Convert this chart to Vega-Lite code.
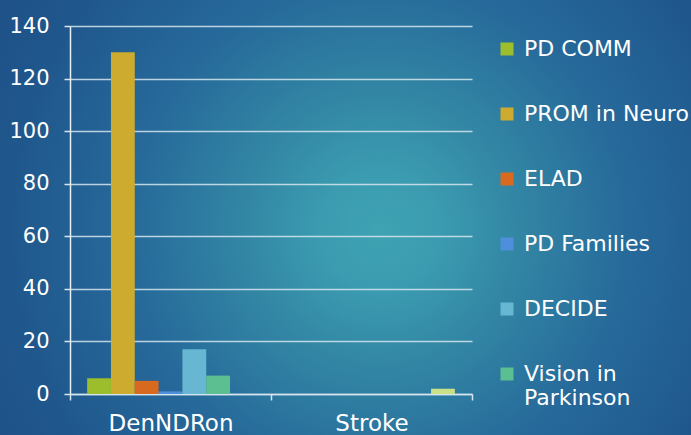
{
  "$schema": "https://vega.github.io/schema/vega-lite/v6.json",
  "width": 691,
  "height": 435,
  "autosize": {"type": "none"},
  "padding": 0,
  "background": "#1e5088",
  "view": {
    "stroke": null,
    "fill": {
      "gradient": "radial",
      "x1": 0.55, "y1": 0.518, "x2": 0.55, "y2": 0.518,
      "r1": 0, "r2": 0.7,
      "stops": [
        {"offset": 0, "color": "#3fa3b3"},
        {"offset": 0.124, "color": "#3b9bb0"},
        {"offset": 0.27, "color": "#3388a5"},
        {"offset": 0.52, "color": "#26699a"},
        {"offset": 0.785, "color": "#1f568b"},
        {"offset": 1, "color": "#1d4e86"}
      ]
    }
  },
  "data": {
    "values": [
      {"group": "DenNDRon", "series": "PD COMM", "value": 6},
      {"group": "DenNDRon", "series": "PROM in Neuro", "value": 130},
      {"group": "DenNDRon", "series": "ELAD", "value": 5},
      {"group": "DenNDRon", "series": "PD Families", "value": 1},
      {"group": "DenNDRon", "series": "DECIDE", "value": 17},
      {"group": "DenNDRon", "series": "Vision in Parkinson", "value": 7},
      {"group": "DenNDRon", "series": "Other", "value": 0},
      {"group": "Stroke", "series": "PD COMM", "value": 0},
      {"group": "Stroke", "series": "PROM in Neuro", "value": 0},
      {"group": "Stroke", "series": "ELAD", "value": 0},
      {"group": "Stroke", "series": "PD Families", "value": 0},
      {"group": "Stroke", "series": "DECIDE", "value": 0},
      {"group": "Stroke", "series": "Vision in Parkinson", "value": 0},
      {"group": "Stroke", "series": "Other", "value": 2}
    ]
  },
  "mark": {"type": "bar"},
  "encoding": {
    "x": {
      "field": "group",
      "type": "nominal",
      "sort": ["DenNDRon", "Stroke"],
      "scale": {"range": [70, 472], "paddingInner": 0, "paddingOuter": 0},
      "axis": {
        "title": null,
        "orient": "bottom",
        "offset": -41,
        "labelAngle": 0,
        "tickBand": "extent",
        "domain": true,
        "domainColor": "#d6e6ee",
        "domainWidth": 1.5,
        "ticks": true,
        "tickSize": 6,
        "tickColor": "#d6e6ee",
        "tickWidth": 1.5,
        "grid": false,
        "labelFont": "DejaVu Sans",
        "labelFontSize": 23,
        "labelColor": "#ffffff",
        "labelPadding": 12
      }
    },
    "xOffset": {
      "field": "series",
      "type": "nominal",
      "sort": ["PD COMM", "PROM in Neuro", "ELAD", "PD Families", "DECIDE", "Vision in Parkinson", "Other"],
      "scale": {"paddingInner": 0, "paddingOuter": 0.72}
    },
    "y": {
      "field": "value",
      "type": "quantitative",
      "scale": {"domain": [0, 140], "range": [394, 26], "nice": false, "zero": true},
      "axis": {
        "title": null,
        "values": [0, 20, 40, 60, 80, 100, 120, 140],
        "offset": -70,
        "domain": true,
        "domainColor": "#e6f0f5",
        "domainWidth": 1.5,
        "ticks": true,
        "tickSize": 6,
        "tickColor": "#d6e6ee",
        "tickWidth": 1.5,
        "grid": true,
        "gridColor": "#d6e6ee",
        "gridWidth": 1.5,
        "gridOpacity": 0.85,
        "labelFont": "DejaVu Sans",
        "labelFontSize": 21,
        "labelColor": "#ffffff",
        "labelPadding": 15
      }
    },
    "color": {
      "field": "series",
      "type": "nominal",
      "scale": {
        "domain": ["PD COMM", "PROM in Neuro", "ELAD", "PD Families", "DECIDE", "Vision in Parkinson", "Other"],
        "range": ["#9cbd2c", "#cdab2e", "#d86a20", "#4e8fdc", "#67b7d3", "#5bbf91", "#c9e28a"]
      },
      "legend": {
        "title": null,
        "orient": "none",
        "legendX": 496,
        "legendY": 38,
        "values": ["PD COMM", "PROM in Neuro", "ELAD", "PD Families", "DECIDE", "Vision in Parkinson"],
        "symbolType": "square",
        "symbolSize": 169,
        "symbolStrokeWidth": 0,
        "symbolOpacity": 1,
        "labelFont": "DejaVu Sans",
        "labelFontSize": 22,
        "labelColor": "#ffffff",
        "labelOffset": 6,
        "labelLimit": 300,
        "rowPadding": 43,
        "labelExpr": "datum.label == 'Vision in Parkinson' ? ['Vision in', 'Parkinson'] : datum.label",
        "encoding": {
          "labels": {"update": {"lineHeight": {"value": 28}}}
        }
      }
    }
  }
}
